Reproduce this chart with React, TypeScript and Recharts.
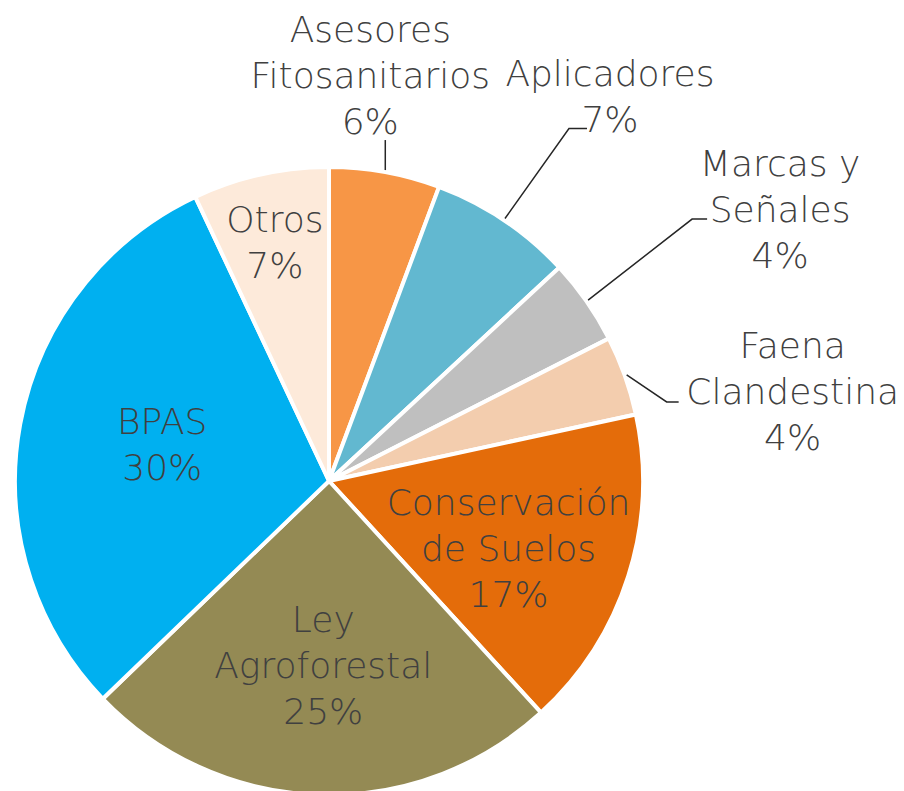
import { Cell, Pie, PieChart } from 'recharts'

const names = [
  'Asesores Fitosanitarios',
  'Aplicadores',
  'Marcas y Señales',
  'Faena Clandestina',
  'Conservación de Suelos',
  'Ley Agroforestal',
  'BPAS',
  'Otros',
]
const values = [5.7, 7.4, 4.4, 4.1, 16.6, 24.6, 30.2, 7.0]
const labelLines = [
  ['Asesores', 'Fitosanitarios'],
  ['Aplicadores'],
  ['Marcas y', 'Señales'],
  ['Faena', 'Clandestina'],
  ['Conservación', 'de Suelos'],
  ['Ley', 'Agroforestal'],
  ['BPAS'],
  ['Otros'],
]
const colors = ['#F79646', '#62B8D0', '#BFBFBF', '#F3CDAE', '#E46C0A', '#948A54', '#00B0F0', '#FDEADA']

// label layout: inside labels use a radius factor, outside ones use an elbow leader
type Layout =
  | { kind: 'in'; r: number; dy: number }
  | { kind: 'out'; elbow: [number, number]; tail: number; text: [number, number] }
const layout: Layout[] = [
  { kind: 'out', elbow: [0, -30], tail: 0, text: [-15, -141] },
  { kind: 'out', elbow: [64, -90], tail: 18, text: [105, -146] },
  { kind: 'out', elbow: [104, -81], tail: 15, text: [192, -137] },
  { kind: 'out', elbow: [40, 27], tail: 12, text: [166, -30] },
  { kind: 'in', r: 0.6, dy: 10 },
  { kind: 'in', r: 0.58, dy: 2 },
  { kind: 'in', r: 0.54, dy: -6 },
  { kind: 'in', r: 0.79, dy: 3 },
]

const data = names.map((name, i) => ({ name, value: values[i] }))

const textColor = '#404040'
const fontSize = 36
const lineHeight = 46
const RAD = Math.PI / 180

function renderLabel(props: any) {
  const { cx, cy, midAngle, outerRadius, percent, index } = props
  const lines = [...labelLines[index], `${Math.round(percent * 100)}%`]
  const lay = layout[index]
  const cos = Math.cos(midAngle * RAD)
  const sin = Math.sin(midAngle * RAD)
  if (lay.kind === 'in') {
    const x = cx + outerRadius * lay.r * cos
    const y = cy - outerRadius * lay.r * sin + lay.dy
    const y0 = y - ((lines.length - 1) * lineHeight) / 2
    return (
      <text x={x} y={y0} textAnchor="middle" dominantBaseline="central" fill={textColor} fontSize={fontSize}>
        {lines.map((l, k) => (
          <tspan key={k} x={x} y={y0 + k * lineHeight}>
            {l}
          </tspan>
        ))}
      </text>
    )
  }
  const ex = cx + (outerRadius + 2) * cos
  const ey = cy - (outerRadius + 2) * sin
  const bx = ex + lay.elbow[0]
  const by = ey + lay.elbow[1]
  const tx = ex + lay.text[0]
  const ty = ey + lay.text[1]
  return (
    <g>
      <polyline
        points={`${ex},${ey} ${bx},${by} ${bx + lay.tail},${by}`}
        fill="none"
        stroke="#262626"
        strokeWidth={1.5}
      />
      <text x={tx} y={ty} textAnchor="middle" dominantBaseline="central" fill={textColor} fontSize={fontSize}>
        {lines.map((l, k) => (
          <tspan key={k} x={tx} y={ty + k * lineHeight}>
            {l}
          </tspan>
        ))}
      </text>
    </g>
  )
}

export default function App() {
  return (
    <div style={{ position: 'absolute', left: 0, top: 0, width: 904, height: 791, background: '#fff' }}>
      <PieChart
        width={904}
        height={791}
        margin={{ top: 0, right: 0, bottom: 0, left: 0 }}
        style={{ fontFamily: '"DejaVu Sans", sans-serif', fontWeight: 200 }}
      >
        <Pie
          data={data}
          dataKey="value"
          nameKey="name"
          cx={329}
          cy={481}
          outerRadius={314}
          startAngle={90}
          endAngle={-270}
          stroke="#fff"
          strokeWidth={4}
          label={renderLabel}
          labelLine={false}
          isAnimationActive={false}
        >
          {data.map((d, i) => (
            <Cell key={d.name} fill={colors[i]} />
          ))}
        </Pie>
      </PieChart>
    </div>
  )
}
